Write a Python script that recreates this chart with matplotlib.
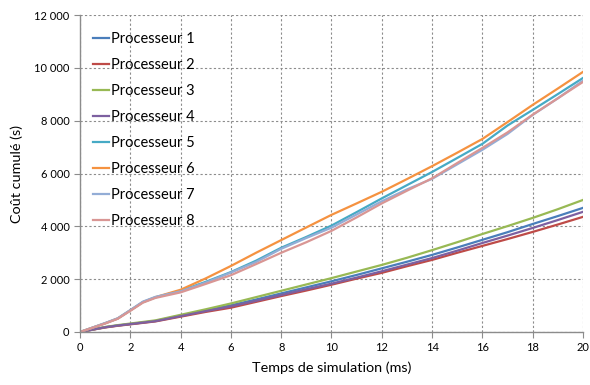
import matplotlib
matplotlib.use("Agg")
import matplotlib.pyplot as plt
from matplotlib.ticker import FuncFormatter, MultipleLocator

plt.rcParams['font.family'] = ['Lato', 'DejaVu Sans']

# Simulation time (ms)
temps = [0, 1, 1.5, 2, 2.5, 3, 4, 5, 6, 7, 8, 9, 10, 11, 12, 13, 14, 15, 16, 17, 18, 19, 20]

# Cumulated cost (s) per processor
proc1 = [0, 180, 245, 300, 360, 420, 620, 820, 1010, 1230, 1460, 1690, 1920, 2160, 2410, 2660, 2920, 3200, 3490, 3780, 4090, 4390, 4700]
proc2 = [0, 170, 235, 290, 345, 400, 580, 760, 920, 1140, 1360, 1570, 1790, 2020, 2240, 2490, 2730, 3000, 3260, 3520, 3790, 4070, 4360]
proc3 = [0, 190, 260, 320, 380, 440, 650, 860, 1080, 1320, 1560, 1800, 2040, 2290, 2540, 2810, 3100, 3400, 3710, 4010, 4320, 4650, 5000]
proc4 = [0, 180, 245, 300, 355, 410, 600, 790, 970, 1180, 1400, 1620, 1830, 2060, 2300, 2550, 2800, 3080, 3370, 3650, 3940, 4240, 4550]
proc5 = [0, 330, 510, 820, 1130, 1310, 1560, 1900, 2270, 2700, 3190, 3600, 4030, 4540, 5060, 5560, 6060, 6590, 7125, 7820, 8410, 9010, 9620]
proc6 = [0, 330, 510, 820, 1130, 1320, 1600, 2030, 2500, 3000, 3480, 3960, 4436, 4870, 5310, 5790, 6280, 6790, 7310, 7950, 8600, 9220, 9850]
proc7 = [0, 340, 520, 830, 1150, 1330, 1540, 1870, 2250, 2650, 3150, 3560, 3950, 4450, 4950, 5400, 5800, 6350, 6900, 7500, 8220, 8850, 9520]
proc8 = [0, 320, 500, 800, 1110, 1290, 1500, 1820, 2150, 2570, 3000, 3400, 3830, 4340, 4870, 5350, 5820, 6400, 6970, 7560, 8230, 8850, 9470]

series = [proc1, proc2, proc3, proc4, proc5, proc6, proc7, proc8]
labels = ["Processeur %d" % (i + 1) for i in range(8)]
colors = ['#4A7EBB', '#BE4B48', '#98B954', '#7D60A0', '#46AAC5', '#F59240', '#93ADD6', '#D99694']

fig = plt.figure(figsize=(5.9, 3.85), dpi=100)
ax = fig.add_axes([0.1356, 0.1377, 0.8525, 0.823])

for y, lab, c in zip(series, labels, colors):
    ax.plot(temps, y, color=c, linewidth=1.6, label=lab)

ax.set_xlim(0, 20)
ax.set_ylim(0, 12000)
ax.xaxis.set_major_locator(MultipleLocator(2))
ax.yaxis.set_major_locator(MultipleLocator(2000))
ax.yaxis.set_major_formatter(FuncFormatter(lambda v, p: f"{int(v):,}".replace(",", " ")))

ax.grid(True, color='#8c8c8c', linestyle=(0, (2, 2)), linewidth=0.8)
ax.set_axisbelow(True)
for s in ['top', 'right']:
    ax.spines[s].set_visible(False)
for s in ['left', 'bottom']:
    ax.spines[s].set_color('#8c8c8c')
    ax.spines[s].set_linewidth(1.0)
ax.tick_params(axis='both', colors='#8c8c8c', labelcolor='black', labelsize=8, length=4, width=0.8)

ax.set_xlabel('Temps de simulation (ms)', fontsize=10.4, labelpad=6)
ax.set_ylabel('Coût cumulé (s)', fontsize=10.4, labelpad=8)

ax.legend(loc='upper left', bbox_to_anchor=(93 / 590, 1 - 32 / 385), bbox_transform=fig.transFigure,
          frameon=False, fontsize=10.5, handlelength=1.1, handletextpad=0.15,
          labelspacing=0.82, borderpad=0, borderaxespad=0)

fig.savefig('out.png', dpi=100)
